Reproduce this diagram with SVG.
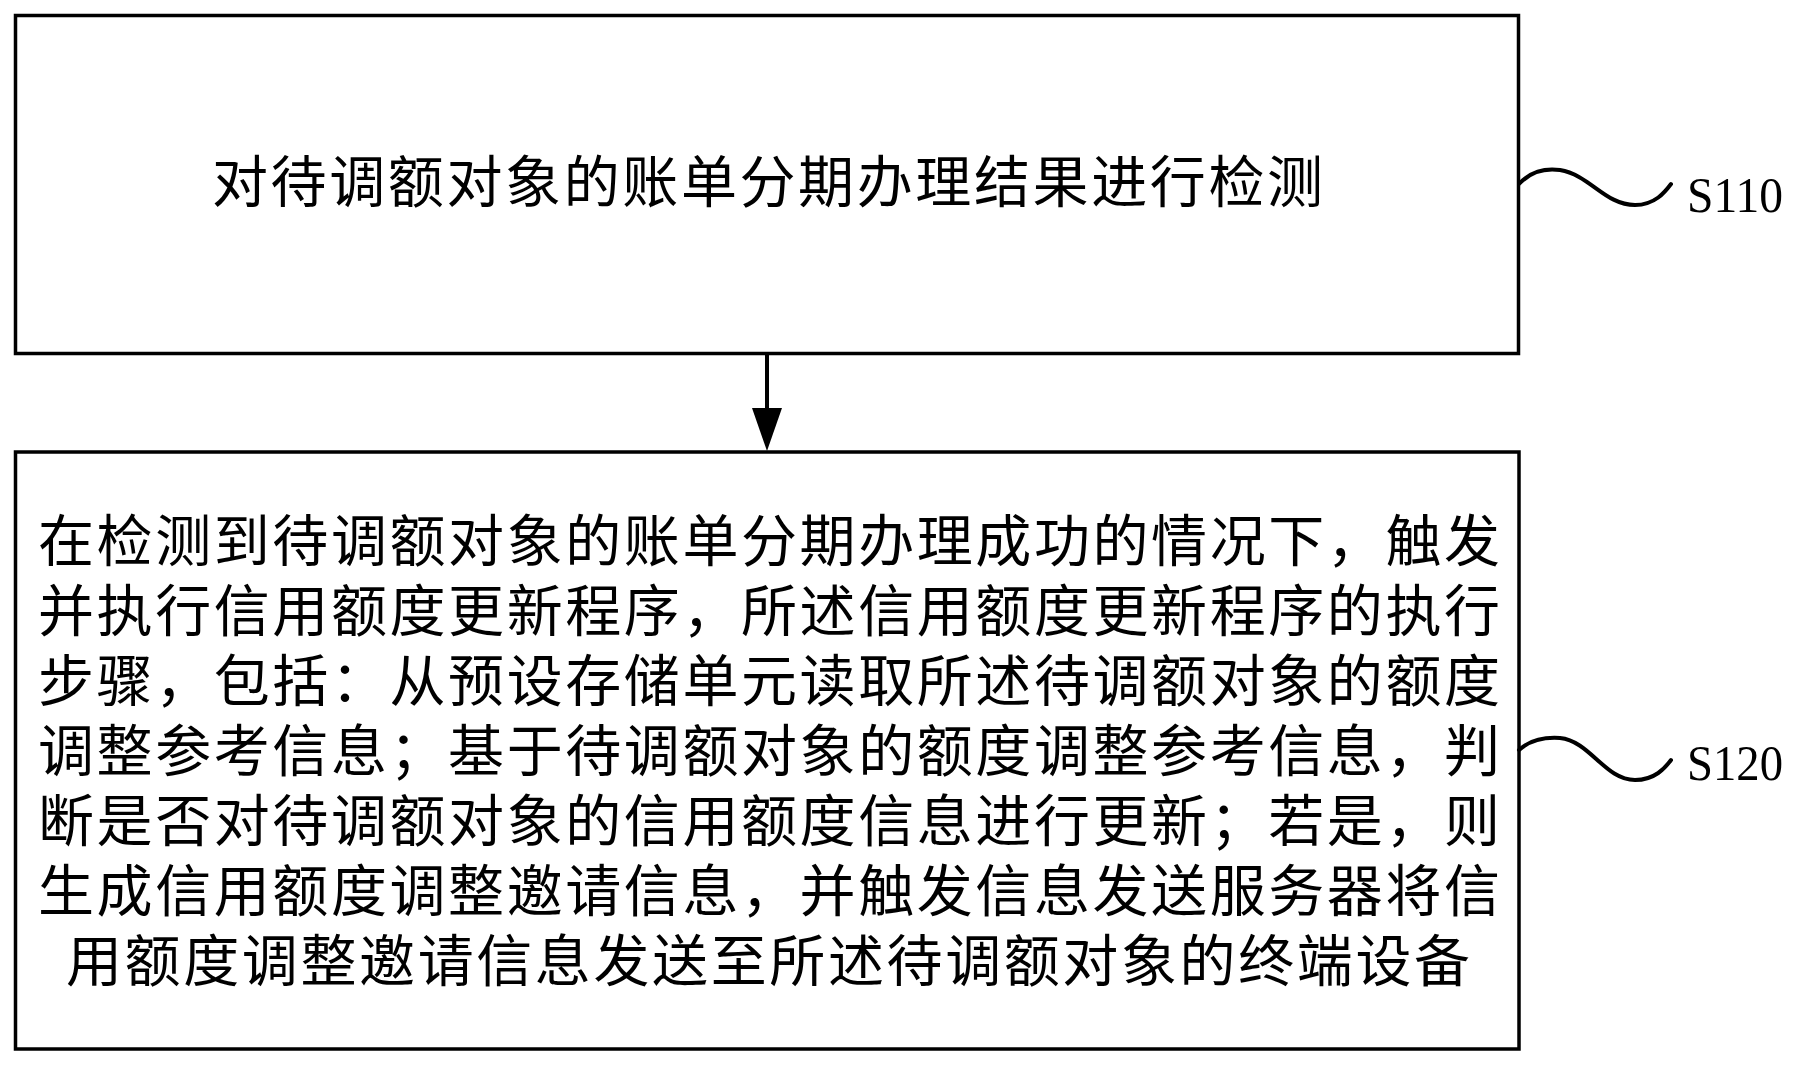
<svg xmlns="http://www.w3.org/2000/svg" width="1798" height="1066" viewBox="0 0 1798 1066">
<style>
.box{fill:#fff;stroke:#000;stroke-width:3.5}
.t{font-family:"Noto Sans CJK SC","Noto Sans CJK JP",sans-serif;font-size:56px;fill:#000}
.lbl{font-family:"Liberation Serif",serif;font-size:50px;fill:#000}
.wave{fill:none;stroke:#000;stroke-width:4;stroke-linecap:round}
.conn{stroke:#000;stroke-width:4}
</style>
<rect width="1798" height="1066" fill="#fff"/>
<g id="S110">
<rect class="box" x="15.5" y="15.5" width="1503" height="338"/>
<text class="t" x="212" y="202" textLength="1111" lengthAdjust="spacing">对待调额对象的账单分期办理结果进行检测</text>
</g>
<g id="S120">
<rect class="box" x="15.5" y="452" width="1503.5" height="597"/>
<text class="t" x="38" y="561" textLength="1462" lengthAdjust="spacing">在检测到待调额对象的账单分期办理成功的情况下，触发</text>
<text class="t" x="38" y="631" textLength="1462" lengthAdjust="spacing">并执行信用额度更新程序，所述信用额度更新程序的执行</text>
<text class="t" x="38" y="701" textLength="1462" lengthAdjust="spacing">步骤，包括：从预设存储单元读取所述待调额对象的额度</text>
<text class="t" x="38" y="771" textLength="1462" lengthAdjust="spacing">调整参考信息；基于待调额对象的额度调整参考信息，判</text>
<text class="t" x="38" y="841" textLength="1462" lengthAdjust="spacing">断是否对待调额对象的信用额度信息进行更新；若是，则</text>
<text class="t" x="38" y="911" textLength="1462" lengthAdjust="spacing">生成信用额度调整邀请信息，并触发信息发送服务器将信</text>
<text class="t" x="66" y="981" textLength="1404" lengthAdjust="spacing">用额度调整邀请信息发送至所述待调额对象的终端设备</text>
</g>
<g id="label-S110">
<path class="wave" d="M1519,184 C1530,172 1545,168 1560,170 C1590,175 1605,205 1635,205 C1655,205 1665,192 1671,184"/>
<text class="lbl" x="1687" y="212" textLength="96" lengthAdjust="spacingAndGlyphs">S110</text>
</g>
<g id="label-S120">
<path class="wave" d="M1519,750 C1530,740 1545,737 1560,738 C1590,741 1605,780 1635,780 C1655,780 1665,768 1671,760"/>
<text class="lbl" x="1687" y="780" textLength="96" lengthAdjust="spacingAndGlyphs">S120</text>
</g>
<g id="connectors">
<line class="conn" x1="767" y1="354" x2="767" y2="412"/>
<polygon points="752,408 782,408 767,451" fill="#000"/>
</g>
</svg>
